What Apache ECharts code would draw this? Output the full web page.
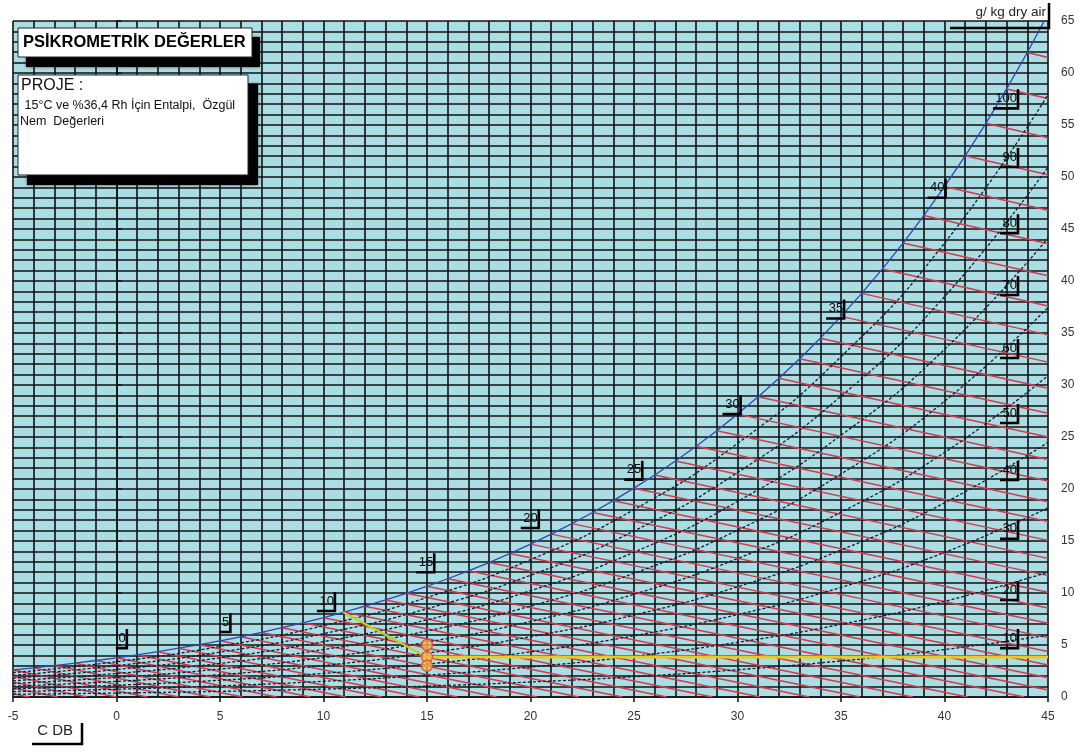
<!DOCTYPE html>
<html>
<head>
<meta charset="utf-8">
<script src="https://cdn.jsdelivr.net/npm/echarts@6/dist/echarts.min.js"></script>
<style>html,body{margin:0;padding:0;background:#fff}#c{width:1091px;height:751px}</style>
</head>
<body>
<div id="c"></div>
<script>
// ---- Data ----
const xTicks = [-5, 0, 5, 10, 15, 20, 25, 30, 35, 40, 45];
const yTicks = [0, 5, 10, 15, 20, 25, 30, 35, 40, 45, 50, 55, 60, 65];

// saturation curve (dry bulb °C, g/kg)
const satT = [-5,-4,-3,-2,-1,0,1,2,3,4,5,6,7,8,9,10,11,12,13,14,15,16,17,18,19,20,21,22,23,24,25,26,27,28,29,30,31,32,33,34,35,36,37,38,39,40,41,42,43,44,45];
const satW = [2.60,2.80,3.02,3.25,3.51,3.77,4.06,4.36,4.69,5.03,5.40,5.79,6.21,6.66,7.13,7.63,8.17,8.73,9.33,9.97,10.65,11.37,12.13,12.93,13.79,14.70,15.66,16.67,17.74,18.88,20.08,21.35,22.69,24.11,25.61,27.20,28.88,30.65,32.52,34.50,36.60,38.81,41.16,43.65,46.29,49.08,52.04,55.16,58.47,61.97,65.68];

// relative humidity curves
const rhT  = [-5,0,5,10,15,20,25,30,35,40,45];
const rh10 = [0.26,0.38,0.54,0.76,1.05,1.44,1.95,2.62,3.47,4.56,5.94];
const rh20 = [0.52,0.75,1.07,1.51,2.10,2.89,3.92,5.26,6.99,9.20,12.00];
const rh30 = [0.78,1.13,1.61,2.27,3.16,4.34,5.89,7.92,10.54,13.90,18.18];
const rh40 = [1.04,1.50,2.15,3.03,4.22,5.80,7.88,10.60,14.13,18.67,24.48];
const rh50 = [1.30,1.88,2.69,3.79,5.28,7.26,9.88,13.31,17.77,23.51,30.90];
const rh60 = [1.56,2.26,3.23,4.56,6.35,8.74,11.90,16.04,21.44,28.43,37.45];
const rh70 = [1.82,2.64,3.77,5.32,7.42,10.22,13.92,18.80,25.16,33.42,44.13];
const rh80 = [2.08,3.02,4.31,6.09,8.49,11.70,15.96,21.58,28.92,38.49,50.96];
const rh90 = [2.34,3.39,4.86,6.86,9.57,13.20,18.02,24.38,32.72,43.64,57.92];

// wet-bulb lines: start [T, w] and end [T, w]
const wbStartT = [-5,-5,-5,-5,-5,-4,-3,-2,-1,0,1,2,3,4,5,6,7,8,9,10,11,12,13,14,15,16,17,18,19,20,21,22,23,24,25,26,27,28,29,30,31,32,33,34,35,36,37,38,39,40,41,42,43,44];
const wbStartW = [0.31,0.86,1.43,2.00,2.60,2.80,3.02,3.25,3.51,3.77,4.06,4.36,4.69,5.03,5.40,5.79,6.21,6.66,7.13,7.63,8.17,8.73,9.33,9.97,10.65,11.37,12.13,12.93,13.79,14.70,15.66,16.67,17.74,18.88,20.08,21.35,22.69,24.11,25.61,27.20,28.88,30.65,32.52,34.50,36.60,38.81,41.16,43.65,46.29,49.08,52.04,55.16,58.47,61.97];
const wbEndT   = [-4.22,-2.84,-1.43,0.00,1.49,2.99,4.53,6.09,7.73,9.37,11.08,12.82,14.63,16.46,18.36,20.31,22.34,24.43,26.58,28.79,31.10,33.46,35.92,38.46,41.11,43.85,45,45,45,45,45,45,45,45,45,45,45,45,45,45,45,45,45,45,45,45,45,45,45,45,45,45,45,45];
const wbEndW   = [0,0,0,0,0,0,0,0,0,0,0,0,0,0,0,0,0,0,0,0,0,0,0,0,0,0,0.67,1.85,3.08,4.37,5.71,7.10,8.55,10.08,11.67,13.33,15.06,16.87,18.77,20.76,22.84,25.01,27.29,29.68,32.20,34.82,37.60,40.51,43.59,46.81,50.21,53.78,57.54,61.50];

// process line and state points
const procT = [10.95, 15];
const procW = [8.15, 3.85];
const sensT = [15, 45];
const sensW = [3.85, 3.85];
const ptT = [15, 15, 15];
const ptW = [5.0, 3.85, 3.0];

// labels on the saturation curve (wet bulb) – anchor = bracket corner
const wbLabT = [0.5, 5.5, 10.55, 15.35, 20.4, 25.4, 30.15, 35.15, 40.05];
const wbLabW = [4.7, 6.25, 8.27, 12.0, 16.25, 20.9, 27.2, 36.4, 48.0];
const wbLabText = ['0','5','10','15','20','25','30','35','40'];
// RH labels on the right
const rhLabT = [43.55,43.55,43.55,43.55,43.55,43.55,43.55,43.55,43.55,43.55];
const rhLabW = [4.7, 9.33, 15.2, 20.87, 26.35, 32.6, 38.65, 44.6, 50.96, 56.6];
const rhLabText = ['10','20','30','40','50','60','70','80','90','100'];

// ---- Chart ----
const zip = (a, b) => a.map((v, i) => [v, b[i]]);
const chart = echarts.init(document.getElementById('c'), null, {renderer: 'canvas'});
const sans = '"Liberation Sans",Arial,sans-serif';

function labelRenderer(texts) {
  return function (params, api) {
    const p = api.coord([api.value(0), api.value(1)]);
    const t = texts[params.dataIndex];
    const w = 4 + 7 * t.length;
    return {
      type: 'group',
      children: [
        {type: 'text', x: p[0] - 1, y: p[1] - 10,
         style: {text: t, align: 'right', verticalAlign: 'middle', fill: '#0a0a0a', font: '13px ' + sans}},
        {type: 'polyline', shape: {points: [[p[0] - w, p[1]], [p[0], p[1]], [p[0], p[1] - 19]]},
         style: {stroke: '#000', lineWidth: 2.6, fill: null}}
      ]
    };
  };
}

const rhSets = [rh10, rh20, rh30, rh40, rh50, rh60, rh70, rh80, rh90];
const series = [];
rhSets.forEach((arr, i) => {
  series.push({
    type: 'line', name: 'RH' + (i + 1) * 10, data: zip(rhT, arr), symbol: 'none',
    smooth: 0.5,
    lineStyle: {color: '#131d36', width: 1.3, type: [3, 2]}, z: 3, silent: true
  });
});
series.push({
  type: 'lines', coordinateSystem: 'cartesian2d', silent: true, z: 3,
  data: wbStartT.map((t, i) => ({coords: [[t, wbStartW[i]], [wbEndT[i], wbEndW[i]]]})),
  lineStyle: {color: '#d43a4c', width: 1.5, opacity: 1}
});
series.push({
  type: 'line', name: 'sat', data: zip(satT, satW), symbol: 'none',
  lineStyle: {color: '#2a48b8', width: 1.3}, z: 4, silent: true
});
series.push({
  type: 'line', data: zip(procT, procW), symbol: 'none',
  lineStyle: {color: '#c6cc22', width: 2.2}, z: 5, silent: true
});
series.push({
  type: 'line', data: zip(sensT, sensW), symbol: 'none',
  lineStyle: {color: '#ebcb1a', width: 3}, z: 5, silent: true
});
series.push({
  type: 'scatter', data: zip(ptT, ptW), symbol: 'circle', symbolSize: 11,
  itemStyle: {color: '#fbb64c', borderColor: '#e0482a', borderWidth: 1.5}, z: 6, silent: true
});
series.push({
  type: 'custom', data: zip(wbLabT, wbLabW), renderItem: labelRenderer(wbLabText), z: 7, clip: false, silent: true
});
series.push({
  type: 'custom', data: zip(rhLabT, rhLabW), renderItem: labelRenderer(rhLabText), z: 7, clip: false, silent: true
});

const gridLine = {show: true, lineStyle: {color: '#111', width: 1.6}};
chart.setOption({
  animation: false,
  grid: {left: 13, right: 43, top: 21, bottom: 54, show: true, backgroundColor: '#aadde4', borderWidth: 0},
  xAxis: {
    type: 'value', min: xTicks[0], max: xTicks[xTicks.length - 1], interval: 5,
    axisLine: {show: true, onZero: false, lineStyle: {color: '#111', width: 1.5}},
    axisTick: {show: true, length: 5, lineStyle: {color: '#111', width: 1.5}},
    axisLabel: {color: '#333', fontSize: 12, margin: 14, fontFamily: sans},
    splitLine: gridLine, minorTick: {show: false, splitNumber: 5}, minorSplitLine: gridLine
  },
  yAxis: {
    type: 'value', position: 'right', min: yTicks[0], max: yTicks[yTicks.length - 1], interval: 5,
    axisLine: {show: true, lineStyle: {color: '#111', width: 1.5}},
    axisTick: {show: true, length: 5, lineStyle: {color: '#111', width: 1.5}},
    axisLabel: {color: '#333', fontSize: 12, margin: 13, fontFamily: sans},
    splitLine: gridLine, minorTick: {show: false, splitNumber: 5}, minorSplitLine: gridLine
  },
  graphic: [
    {type: 'rect', shape: {x: 26, y: 37, width: 234, height: 30}, style: {fill: '#000', shadowBlur: 3, shadowColor: 'rgba(0,0,0,0.6)'}, z: 100},
    {type: 'rect', shape: {x: 18, y: 28, width: 234, height: 29}, style: {fill: '#fff', stroke: '#222', lineWidth: 1}, z: 101},
    {type: 'text', x: 23, y: 42, style: {text: 'PSİKROMETRİK DEĞERLER', font: 'bold 16.5px ' + sans, fill: '#000', verticalAlign: 'middle'}, z: 102},
    {type: 'rect', shape: {x: 27, y: 84, width: 231, height: 101}, style: {fill: '#000', shadowBlur: 3, shadowColor: 'rgba(0,0,0,0.6)'}, z: 100},
    {type: 'rect', shape: {x: 18, y: 75, width: 230, height: 100}, style: {fill: '#fff', stroke: '#222', lineWidth: 1}, z: 101},
    {type: 'text', x: 21, y: 86, style: {text: 'PROJE :', font: '16px ' + sans, fill: '#111', verticalAlign: 'middle'}, z: 102},
    {type: 'text', x: 21, y: 106, style: {text: ' 15°C ve %36,4 Rh İçin Entalpi,  Özgül', font: '12.5px ' + sans, fill: '#111', verticalAlign: 'middle'}, z: 102},
    {type: 'text', x: 20, y: 122, style: {text: 'Nem  Değerleri', font: '12.5px ' + sans, fill: '#111', verticalAlign: 'middle'}, z: 102},
    {type: 'text', x: 73, y: 731, style: {text: 'C DB', font: '15px ' + sans, fill: '#222', align: 'right', verticalAlign: 'middle'}, z: 102},
    {type: 'polyline', shape: {points: [[32, 744], [82, 744], [82, 723]]}, style: {stroke: '#000', lineWidth: 2.5, fill: null}, z: 102},
    {type: 'text', x: 1046, y: 12, style: {text: 'g/ kg dry air', font: '13.5px ' + sans, fill: '#222', align: 'right', verticalAlign: 'middle'}, z: 102},
    {type: 'polyline', shape: {points: [[950, 28], [1049, 28], [1049, 3]]}, style: {stroke: '#000', lineWidth: 2.5, fill: null}, z: 102}
  ],
  series: series
});
</script>
</body>
</html>
